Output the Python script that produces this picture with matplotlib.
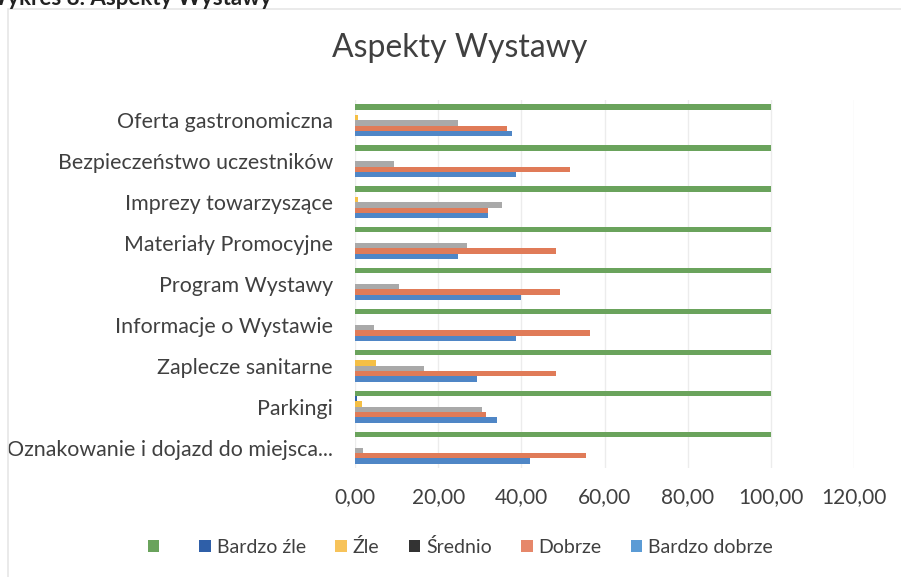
import matplotlib.pyplot as plt
import numpy as np
from matplotlib.patches import Rectangle

# categories listed bottom to top (as matplotlib draws them)
categories = [
    "Oznakowanie i dojazd do miejsca...",
    "Parkingi",
    "Zaplecze sanitarne",
    "Informacje o Wystawie",
    "Program Wystawy",
    "Materiały Promocyjne",
    "Imprezy towarzyszące",
    "Bezpieczeństwo uczestników",
    "Oferta gastronomiczna",
]

total = [100, 100, 100, 100, 100, 100, 100, 100, 100]
bardzo_zle = [0, 0.6, 0, 0, 0, 0, 0, 0, 0]
zle = [0, 1.7, 5.1, 0, 0, 0, 0.8, 0, 0.8]
srednio = [2.0, 30.5, 16.5, 4.5, 10.5, 26.9, 35.4, 9.3, 24.7]
dobrze = [55.5, 31.5, 48.3, 56.5, 49.4, 48.4, 32.0, 51.8, 36.6]
bardzo_dobrze = [42.0, 34.2, 29.3, 38.7, 40.0, 24.7, 32.0, 38.7, 37.8]

# bottom bar first within each group
series = [
    ("Bardzo dobrze", bardzo_dobrze, "#4f86c6", "#5b9bd5"),
    ("Dobrze", dobrze, "#e07b58", "#e6876a"),
    ("Średnio", srednio, "#a9a9a9", "#333333"),
    ("Źle", zle, "#f5bf45", "#f7c35a"),
    ("Bardzo źle", bardzo_zle, "#2f5fa8", "#2f5fa8"),
    (" ", total, "#6aa35c", "#6aa35c"),
]

plt.rcParams["font.family"] = ["Lato", "DejaVu Sans"]

fig = plt.figure(figsize=(9.01, 5.77), dpi=100)
ax = fig.add_axes([355 / 901, 1 - 468 / 577, 499 / 901, 368 / 577])

# faint frame of the pasted chart
fig.patches.append(Rectangle((8 / 901, -0.05), 1.1, 1 - 9 / 577 + 0.05,
                             transform=fig.transFigure, fill=False,
                             edgecolor="#e6e6e6", linewidth=1.2))

y = np.arange(len(categories))
h = 0.13
handles = {}
for k, (name, vals, color, legend_color) in enumerate(series):
    bars = ax.barh(y + (k - 2.5) * h, vals, height=h, color=color, label=name)
    handles[name] = (bars, legend_color)

ax.set_xlim(0, 120)
ax.set_ylim(-0.5, len(categories) - 0.5)
ax.set_xticks(np.arange(0, 121, 20))
ax.set_xticklabels([f"{v:.2f}".replace(".", ",") for v in range(0, 121, 20)])
ax.set_yticks(y)
ax.set_yticklabels(categories)
ax.tick_params(axis="both", length=0, colors="#404040", labelsize=15)
ax.tick_params(axis="y", pad=16, labelsize=15.4)
ax.tick_params(axis="x", pad=14)
ax.grid(axis="x", color="#ececec", linewidth=1)
ax.set_axisbelow(True)
for s in ax.spines.values():
    s.set_visible(False)

fig.text(0.51, 1 - 48 / 577, "Aspekty Wystawy", ha="center", va="center",
         fontsize=23, color="#404040")
fig.text(-0.018, 1 - 5 / 577, "Wykres 8. Aspekty Wystawy", ha="left",
         va="baseline", fontsize=16, fontweight="bold", color="#222222")

order = [" ", "Bardzo źle", "Źle", "Średnio", "Dobrze", "Bardzo dobrze"]
leg = fig.legend([handles[n][0] for n in order], order, loc="center",
                 bbox_to_anchor=(0.511, 1 - 547 / 577), ncol=6, frameon=False,
                 fontsize=14, handlelength=0.6, handleheight=0.6,
                 handletextpad=0.3, columnspacing=1.5, labelcolor="#404040")
for patch, n in zip(leg.get_patches(), order):
    patch.set_facecolor(handles[n][1])

fig.savefig("out.png", dpi=100)
